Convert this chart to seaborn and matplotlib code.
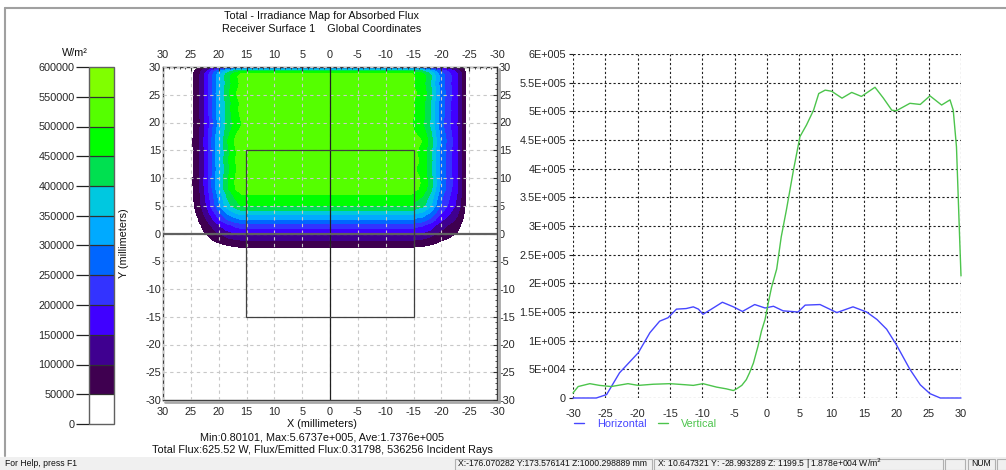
import numpy as np
import pandas as pd
import matplotlib
matplotlib.use('Agg')
import matplotlib.pyplot as plt
import seaborn as sns
from matplotlib.colors import ListedColormap, BoundaryNorm
from matplotlib.ticker import FuncFormatter, MultipleLocator
from matplotlib.lines import Line2D
from matplotlib.patches import Rectangle

# ---------------- data ----------------
# Horizontal profile (along y = 0)
h_pos = [-30, -26.4, -24.8, -22.8, -19.9, -18.1, -16.6, -15.3, -14.0, -12.5, -11.4,
         -10.6, -9.9, -8.6, -6.9, -5.2, -3.8, -1.9, -0.3, 1.0, 2.5, 4.8, 5.9, 8.2,
         10.8, 13.3, 15.4, 17.0, 18.5, 20.0, 22.1, 23.7, 25.2, 26.8, 30]
h_val = [0, 0, 6000, 44000, 79000, 114000, 134000, 140000, 155000, 156000, 159000,
         155000, 146000, 155000, 167000, 159000, 151000, 163000, 157000, 160000, 152000,
         150000, 162000, 163000, 149000, 159000, 150000, 137000, 120000, 93000, 50000,
         23000, 7600, 0, 0]
# Vertical profile (along x = 0)
v_pos = [-30, -29.2, -27.4, -25.9, -24.1, -21.5, -19.9, -17.6, -15.0, -12.5, -11.4,
         -9.9, -7.8, -6.3, -5.2, -4.7, -3.9, -3.2, -2.7, -2.1, -1.4, -0.85, -0.3, 0.2,
         0.7, 1.5, 2.2, 3.0, 4.1, 5.1, 6.1, 7.2, 8.0, 9.0, 10.0, 11.6, 13.1, 14.6,
         16.7, 18.0, 19.3, 20.0, 22.1, 23.7, 25.2, 27.0, 28.3, 28.8, 29.3, 29.8, 30]
v_val = [8800, 20000, 25000, 22000, 20000, 25000, 22000, 24000, 25000, 23000, 22000,
         25000, 19000, 16000, 13000, 16000, 22000, 32000, 44000, 61000, 90000, 117000,
         137000, 166000, 193000, 225000, 281000, 328000, 398000, 456000, 476000,
         502000, 531000, 537000, 535000, 523000, 533000, 526000, 542000, 523000,
         502000, 501000, 514000, 512000, 527000, 511000, 520000, 502000, 438000,
         276000, 213000]

level_bounds = [0, 50000, 100000, 150000, 200000, 250000, 300000, 350000, 400000,
                450000, 500000, 550000, 600000]
level_colors = ['#ffffff', '#3f0050', '#3f0090', '#4000ff', '#3333ff', '#0066ff',
                '#00aaff', '#00c8e0', '#00e050', '#00ff00', '#55ff00', '#80ff00']
map_ticks = [30, 25, 20, 15, 10, 5, 0, -5, -10, -15, -20, -25, -30]
line_xticks = [-30, -25, -20, -15, -10, -5, 0, 5, 10, 15, 20, 25, 30]
line_yticks = [0, 50000, 100000, 150000, 200000, 250000, 300000, 350000, 400000,
               450000, 500000, 550000, 600000]
series_names = ['Horizontal', 'Vertical']
series_colors = {'Horizontal': '#4646ff', 'Vertical': '#4cc44c'}

title_lines = ['Total - Irradiance Map for Absorbed Flux',
               'Receiver Surface 1    Global Coordinates']
stats_lines = ['Min:0.80101, Max:5.6737e+005, Ave:1.7376e+005',
               'Total Flux:625.52 W, Flux/Emitted Flux:0.31798, 536256 Incident Rays']

# ---------------- style ----------------
FS = 7.8
sns.set_theme(style='white')
plt.rcParams['font.family'] = ['Liberation Sans', 'DejaVu Sans']
plt.rcParams['font.size'] = FS
plt.rcParams['text.color'] = '#101010'

W, H = 1006, 470
fig = plt.figure(figsize=(W / 100, H / 100), dpi=100)
fig.patch.set_facecolor('white')


def box(x0, y0, x1, y1):
    return [x0 / W, 1 - y1 / H, (x1 - x0) / W, (y1 - y0) / H]


def fx(px):
    return px / W


def fy(py):
    return 1 - py / H


# window frame & status bar
fig.add_artist(Line2D([fx(5), 1], [fy(8), fy(8)], color='#a0a0a0', lw=1.5))
fig.add_artist(Line2D([fx(5), fx(5)], [fy(8), fy(456)], color='#a0a0a0', lw=1.5))
fig.add_artist(Rectangle((0, 0), 1, fy(457), transform=fig.transFigure,
                         facecolor='#f0f0f0', edgecolor='none'))
SFS = 6.2
fig.text(fx(5), fy(464), 'For Help, press F1', fontsize=SFS, va='center', ha='left')
panels = [(455, 652, 'X:-176.070282 Y:173.576141 Z:1000.298889 mm'),
          (654, 943, 'X: 10.647321 Y: -28.993289 Z: 1199.5 | 1.878e+004 W/m$^2$'),
          (945, 965, ''), (968, 995, 'NUM'), (997, 1010, '')]
for x0, x1, t in panels:
    fig.add_artist(Rectangle((fx(x0), 0), fx(x1 - x0), fy(459), transform=fig.transFigure,
                             facecolor='#f0f0f0', edgecolor='#b0b0b0', lw=0.8))
    if t:
        fig.text(fx(x0 + 3), fy(464), t, fontsize=SFS, va='center', ha='left')

# titles
fig.text(fx(322), fy(16), title_lines[0], ha='center', va='center', fontsize=FS)
fig.text(fx(322), fy(29), title_lines[1], ha='center', va='center', fontsize=FS)
fig.text(fx(322), fy(437), stats_lines[0], ha='center', va='center', fontsize=FS)
fig.text(fx(322), fy(450), stats_lines[1], ha='center', va='center', fontsize=FS)

# ---------------- irradiance map ----------------
cmap = ListedColormap(level_colors)
norm = BoundaryNorm(level_bounds, cmap.N)
gx = np.linspace(-30, 30, 361)
gy = np.linspace(-30, 30, 361)
hx = np.interp(gx, h_pos, h_val)
vy = np.interp(gy, v_pos, v_val)
h_arr = np.array(h_val, dtype=float)
plateau = h_arr[np.abs(np.array(h_pos)) <= 15].min()
hx_rel = np.clip(hx / plateau, 0, 1)
Z = np.outer(vy, hx_rel)

axm = fig.add_axes(box(163, 67, 497, 400))
cs = axm.contourf(gx, gy, Z, levels=level_bounds, cmap=cmap, norm=norm, zorder=1)
axm.set_xlim(30, -30)
axm.set_ylim(-30, 30)
axm.set_xticks(map_ticks)
axm.set_yticks(map_ticks)
axm.set_xticklabels([str(t) for t in map_ticks])
axm.set_yticklabels([str(t) for t in map_ticks])
axm.xaxis.set_minor_locator(MultipleLocator(1))
axm.yaxis.set_minor_locator(MultipleLocator(1))
axm.tick_params(axis='both', which='major', direction='in', length=3, width=0.8,
                color='#303030', labelsize=FS, top=True, right=True,
                labeltop=True, labelright=True)
axm.tick_params(axis='x', which='major', pad=5)
axm.tick_params(axis='y', which='major', pad=1.5)
axm.tick_params(axis='both', which='minor', direction='in', length=1.5, width=0.6,
                color='#303030', top=True, right=True)
axm.grid(True, which='major', color='#c8c8c8', linestyle=(0, (3, 3)), linewidth=0.8,
         zorder=2)
axm.set_axisbelow(False)
for s in axm.spines.values():
    s.set_color('#404040')
    s.set_linewidth(1)
axm.axvline(0, color='#202020', lw=0.9, zorder=3)
axm.axhline(0, color='#606060', lw=1.6, zorder=3)
axm.add_patch(Rectangle((-15, -15), 30, 30, fill=False, edgecolor='#404040', lw=0.9,
                        zorder=3))
# frame shadow
fig.add_artist(Line2D([fx(499), fx(499)], [fy(69), fy(402)], color='#a8a8a8', lw=2))
fig.add_artist(Line2D([fx(165), fx(499)], [fy(402), fy(402)], color='#a8a8a8', lw=2))
fig.text(fx(322), fy(424), 'X (millimeters)', ha='center', va='center', fontsize=FS)
fig.text(fx(124), fy(243), 'Y (millimeters)', ha='center', va='center', rotation=90,
         fontsize=FS)

# ---------------- colour bar ----------------
cax = fig.add_axes(box(89, 67, 114, 424))
cb = fig.colorbar(cs, cax=cax, ticks=level_bounds, drawedges=True)
cax.yaxis.set_ticks_position('left')
cax.yaxis.set_label_position('left')
cax.set_yticklabels([str(v) for v in level_bounds])
cax.tick_params(axis='y', which='major', length=9.5, width=0.9, color='#202020',
                pad=1, labelsize=FS, direction='out')
cax.minorticks_off()
cb.outline.set_edgecolor('#606060')
cb.outline.set_linewidth(1)
cb.dividers.set_color('#303030')
cb.dividers.set_linewidth(0.9)
fig.text(fx(75), fy(53), 'W/m²', ha='center', va='center', fontsize=FS)

# ---------------- profile plot ----------------
ax2 = fig.add_axes(box(573, 54, 961, 398))
df = pd.concat([
    pd.DataFrame({'pos': h_pos, 'value': h_val, 'series': series_names[0]}),
    pd.DataFrame({'pos': v_pos, 'value': v_val, 'series': series_names[1]}),
], ignore_index=True)
sns.lineplot(data=df, x='pos', y='value', hue='series', palette=series_colors,
             estimator=None, linewidth=1.0, legend=False, ax=ax2)
for ln in ax2.lines:
    ln.set_clip_on(False)
    ln.set_zorder(3)
ax2.set_xlim(-30, 30)
ax2.set_ylim(0, 600000)
ax2.set_xticks(line_xticks)
ax2.set_yticks(line_yticks)


def sci(v, _):
    if v == 0:
        return '0'
    e = int(np.floor(np.log10(abs(v))))
    m = round(v / 10 ** e, 3)
    return f"{m:g}E+{e:03d}"


ax2.yaxis.set_major_formatter(FuncFormatter(sci))
ax2.set_xticklabels([str(t) for t in line_xticks])
ax2.set_xlabel('')
ax2.set_ylabel('')
for s in ax2.spines.values():
    s.set_visible(False)
ax2.grid(True, color='#202020', linestyle=(0, (2, 2)), linewidth=0.8, zorder=1)
ax2.tick_params(axis='both', length=3, width=0.8, color='#202020', pad=2,
                labelsize=FS, left=True, bottom=False)
ax2.tick_params(axis='x', pad=5)

handles = [Line2D([], [], color=series_colors[n], lw=1) for n in series_names]
leg = ax2.legend(handles, series_names, loc='center left',
                 bbox_to_anchor=(fx(574), fy(424)), bbox_transform=fig.transFigure,
                 frameon=False, ncol=2, handlelength=0.9, handletextpad=1.2,
                 columnspacing=1.1, fontsize=FS, borderpad=0, borderaxespad=0)
for t, n in zip(leg.get_texts(), series_names):
    t.set_color(series_colors[n])

fig.savefig('out.png', dpi=100)
